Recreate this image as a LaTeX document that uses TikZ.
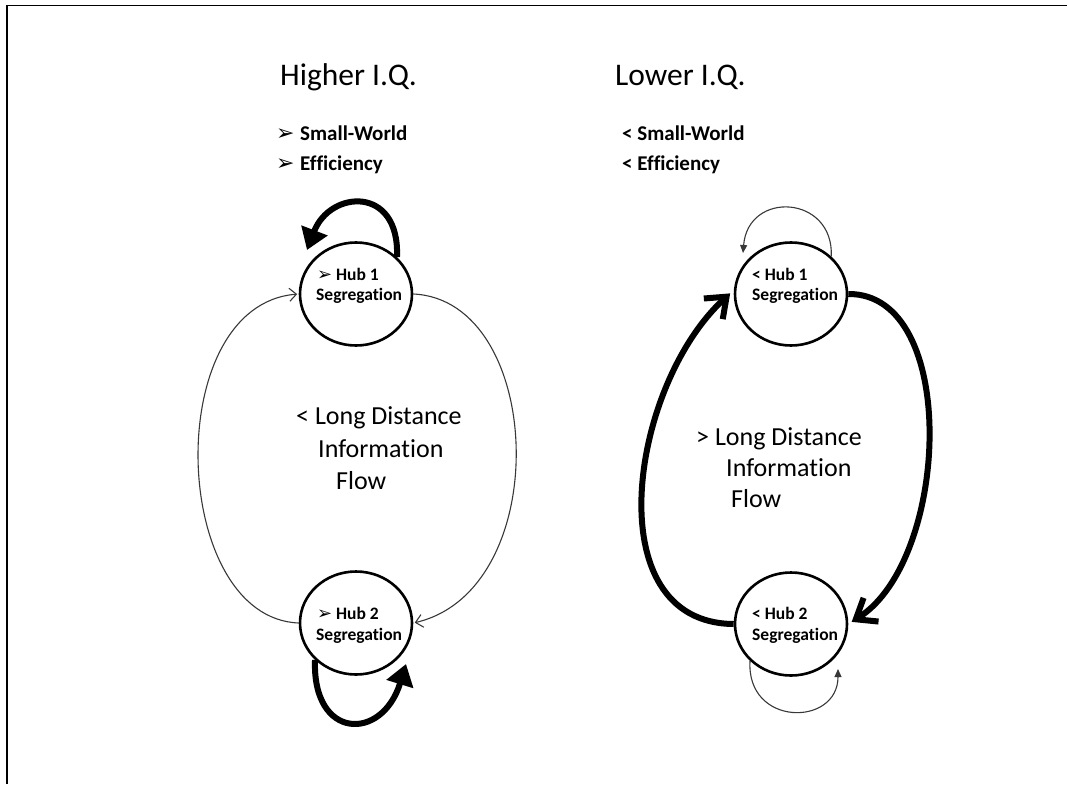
\documentclass[tikz,border=0pt]{standalone}
\usepackage{fontspec}
\setmainfont{Carlito}[Ligatures=NoCommon]
\newfontfamily\dvfont{DejaVu Sans}
\usetikzlibrary{arrows.meta,shapes.geometric}
\tikzset{
  hub/.style={ellipse, draw, line width=2.6pt, minimum width=112pt, minimum height=103pt, inner sep=0pt},
  txt/.style={inner sep=0pt, anchor=base west},
  titletxt/.style={txt, font=\fontsize{31.5}{36}\selectfont},
  bullettxt/.style={txt, font=\bfseries\fontsize{21}{24}\selectfont},
  hubtxt/.style={txt, font=\bfseries\fontsize{17.5}{20}\selectfont},
  flowtxt/.style={txt, font=\fontsize{26}{30}\selectfont},
  thinline/.style={draw=black!78, line width=1.1pt},
  thickline/.style={draw=black, line width=6pt},
  frameline/.style={draw=black, line width=1.7pt}
}
\newcommand{\bulletarrow}[2]{\makebox[#1][l]{\dvfont\fontsize{#2}{#2}\selectfont ➢}}
\begin{document}
\begin{tikzpicture}[x=1pt,y=-1pt]
\useasboundingbox (0,0) rectangle (1067,784);
% frame
\coordinate (fTL) at (6.8,5.6);
\coordinate (fTR) at (1067,5.6);
\coordinate (fBL) at (6.8,784);
\draw[frameline] (fBL) -- (fTL) -- (fTR);

% titles
\node[titletxt] (titleL) at (280,85) {Higher I.Q.};
\node[titletxt] (titleR) at (615,85) {Lower I.Q.};

% bullet lines
\node[bullettxt] (bL1) at (276,140) {\bulletarrow{24pt}{22}Small-World};
\node[bullettxt] (bL2) at (276,170) {\bulletarrow{24pt}{22}Efficiency};
\node[bullettxt] (bR1) at (622,140) {< Small-World};
\node[bullettxt] (bR2) at (622,170) {< Efficiency};

% hubs
\node[hub] (hubL1) at (356,294) {};
\node[hub] (hubL2) at (356,623) {};
\node[hub] (hubR1) at (791,294) {};
\node[hub] (hubR2) at (791,624) {};

% hub texts
\node[hubtxt] (hL1a) at (317,280) {\bulletarrow{19pt}{18}Hub 1};
\node[hubtxt] (hL1b) at (316,300) {Segregation};
\node[hubtxt] (hL2a) at (317,619) {\bulletarrow{19pt}{18}Hub 2};
\node[hubtxt] (hL2b) at (316,640) {Segregation};
\node[hubtxt] (hR1a) at (752,280) {< Hub 1};
\node[hubtxt] (hR1b) at (752,300) {Segregation};
\node[hubtxt] (hR2a) at (752,619) {< Hub 2};
\node[hubtxt] (hR2b) at (752,640) {Segregation};

% centre texts
\node[flowtxt] (cL1) at (296,424) {< Long Distance};
\node[flowtxt] (cL2) at (318,457) {Information};
\node[flowtxt] (cL3) at (336,489) {Flow};
\node[flowtxt] (cR1) at (696,445) {> Long Distance};
\node[flowtxt] (cR2) at (726,476) {Information};
\node[flowtxt] (cR3) at (731,507) {Flow};

% tip coordinates
\coordinate (tL1) at (307,250);
\coordinate (tL2) at (406,664);
\coordinate (tR1) at (743,253);
\coordinate (tR2) at (838,669);

% ---- left panel ----
\draw[thickline, -{Triangle[length=21pt,width=27pt]}]
  (hubL1.42) .. controls (400,185) and (330,190) .. (tL1);
\draw[thickline, -{Triangle[length=21pt,width=27pt]}]
  (hubL2.222) .. controls (312,740) and (382,742) .. (tL2);
\draw[thinline, -{Straight Barb[length=7pt,width=13pt]}, shorten >=1.5pt]
  (hubL1.east) .. controls (545,300) and (555,590) .. (hubL2.east);
\draw[thinline, -{Straight Barb[length=7pt,width=13pt]}, shorten >=1.5pt]
  (hubL2.west) .. controls (170,618) and (160,305) .. (hubL1.west);

% ---- right panel ----
\draw[thinline, -{Triangle[length=8pt,width=7pt]}]
  (hubR1.43) .. controls (834,195) and (748,190) .. (tR1);
\draw[thinline, -{Triangle[length=8pt,width=7pt]}]
  (hubR2.222) .. controls (746,727) and (838,727) .. (tR2);
\draw[thickline, -{Straight Barb[length=18pt,width=28pt]}, shorten >=5pt]
  (hubR2.west) .. controls (595,623) and (630,385) .. (hubR1.176);
\draw[thickline, -{Straight Barb[length=18pt,width=28pt]}, shorten >=4pt]
  (hubR1.east) .. controls (960,293) and (950,560) .. (hubR2.east);
\end{tikzpicture}
\end{document}
